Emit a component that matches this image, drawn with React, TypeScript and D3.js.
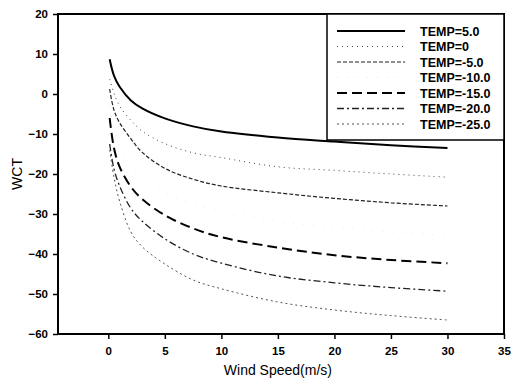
import React, { useRef, useEffect } from 'react';
import * as d3 from 'd3';

// wind speed (m/s) sample points
const windSpeed = [0.12, 0.5, 1, 2, 3, 5, 7.5, 10, 15, 20, 25, 30];

const tempLabels = ['TEMP=5.0', 'TEMP=0', 'TEMP=-5.0', 'TEMP=-10.0', 'TEMP=-15.0', 'TEMP=-20.0', 'TEMP=-25.0'];

const wctT5 = [8.7, 4.6, 1.8, -1.6, -3.6, -6.1, -8.1, -9.4, -10.9, -11.9, -12.8, -13.5];
const wctT0 = [3.7, 0.2, -3, -6.6, -9.3, -12.4, -14.7, -15.9, -18.2, -19.1, -20, -20.8];
const wctTm5 = [1.2, -4, -7.2, -11.2, -14.6, -18.6, -21.3, -23, -24.7, -26.1, -27.2, -28];
const wctTm10 = [-3, -9, -13, -17.5, -21, -24.8, -27.5, -29.4, -31.8, -33.3, -34.5, -35.4];
const wctTm15 = [-6, -13.5, -18.2, -23.2, -26.3, -30.3, -33.6, -35.8, -38.4, -40.3, -41.5, -42.3];
const wctTm20 = [-12.5, -18.7, -23, -28.6, -31.8, -36.2, -40, -42.3, -45.5, -47.2, -48.4, -49.3];
const wctTm25 = [-14, -20.8, -26.8, -34.5, -38.2, -42.5, -46.5, -48.7, -52, -54, -55.4, -56.5];

const xTicks = [0, 5, 10, 15, 20, 25, 30, 35];
const yTicks = [-60, -50, -40, -30, -20, -10, 0, 10, 20];

const lineStyles = [
  { stroke: '#000', width: 2, dash: null },
  { stroke: '#444', width: 1, dash: '1,4' },
  { stroke: '#222', width: 1.2, dash: '4,2' },
  { stroke: '#e8e8e8', width: 1, dash: '1,9' },
  { stroke: '#000', width: 2, dash: '10,5' },
  { stroke: '#222', width: 1.3, dash: '7,3,2,3' },
  { stroke: '#555', width: 1, dash: '2,3' },
];

const App = () => {
  const svgRef = useRef<SVGSVGElement>(null);

  useEffect(() => {
    const width = 511;
    const height = 381;
    const margin = { top: 14, right: 7, bottom: 47, left: 58 };
    const innerWidth = width - margin.left - margin.right;
    const innerHeight = height - margin.top - margin.bottom;
    const font = '"Liberation Sans", Arial, sans-serif';

    const root = d3.select(svgRef.current);
    root.selectAll('*').remove();
    root.attr('width', width).attr('height', height);
    root.append('rect').attr('width', width).attr('height', height).attr('fill', '#fff');

    const svg = root.append('g').attr('transform', `translate(${margin.left}, ${margin.top})`);

    const xScale = d3.scaleLinear().domain([-4.45, 35]).range([0, innerWidth]);
    const yScale = d3.scaleLinear().domain([-60, 20]).range([innerHeight, 0]);

    const series = [wctT5, wctT0, wctTm5, wctTm10, wctTm15, wctTm20, wctTm25];

    const line = d3.line<number>()
      .x((d, i) => xScale(windSpeed[i]))
      .y(d => yScale(d))
      .curve(d3.curveCatmullRom.alpha(0.5));

    svg.selectAll('.line')
      .data(series)
      .enter()
      .append('path')
      .attr('class', 'line')
      .attr('d', d => line(d))
      .attr('fill', 'none')
      .attr('stroke', (d, i) => lineStyles[i].stroke)
      .attr('stroke-width', (d, i) => lineStyles[i].width)
      .attr('stroke-dasharray', (d, i) => lineStyles[i].dash);

    const xAxis = svg.append('g')
      .attr('transform', `translate(0, ${innerHeight})`)
      .call(d3.axisBottom(xScale).tickValues(xTicks).tickSize(5).tickPadding(8).tickFormat(d3.format('d')));

    const yAxis = svg.append('g')
      .call(d3.axisLeft(yScale).tickValues(yTicks).tickSize(5).tickPadding(5).tickFormat(d3.format('d')));

    [xAxis, yAxis].forEach(ax => {
      ax.select('.domain').remove();
      ax.selectAll('line').attr('stroke', '#000').attr('stroke-width', 1.5);
      ax.selectAll('text')
        .attr('font-family', font)
        .attr('font-weight', 'bold')
        .attr('font-size', 11.5)
        .attr('fill', '#000');
    });

    // plot frame
    svg.append('rect')
      .attr('width', innerWidth)
      .attr('height', innerHeight)
      .attr('fill', 'none')
      .attr('stroke', '#000')
      .attr('stroke-width', 2);

    // legend
    const legendX = 327 - margin.left;
    const legendW = innerWidth - legendX;
    const legendH = 126;
    const legend = svg.append('g');
    legend.append('rect')
      .attr('x', legendX)
      .attr('y', 0)
      .attr('width', legendW)
      .attr('height', legendH)
      .attr('fill', '#fff')
      .attr('stroke', '#000')
      .attr('stroke-width', 1.5);

    const rowY = (i: number) => 17 + i * 15.5;
    tempLabels.forEach((label, i) => {
      const st = lineStyles[i];
      legend.append('line')
        .attr('x1', legendX + 10)
        .attr('x2', legendX + 78)
        .attr('y1', rowY(i))
        .attr('y2', rowY(i))
        .attr('stroke', st.stroke)
        .attr('stroke-width', st.width)
        .attr('stroke-dasharray', st.dash);
      legend.append('text')
        .attr('x', legendX + 93)
        .attr('y', rowY(i))
        .attr('dy', '0.36em')
        .attr('font-family', font)
        .attr('font-weight', 'bold')
        .attr('font-size', 12.5)
        .text(label);
    });

    // axis titles
    root.append('text')
      .attr('x', margin.left + xScale(15))
      .attr('y', 375)
      .attr('text-anchor', 'middle')
      .attr('font-family', font)
      .attr('font-size', 14)
      .text('Wind Speed(m/s)');

    root.append('text')
      .attr('transform', `translate(22, ${margin.top + innerHeight / 2}) rotate(-90)`)
      .attr('text-anchor', 'middle')
      .attr('font-family', font)
      .attr('font-size', 14)
      .text('WCT');
  }, []);

  return (
    <svg ref={svgRef} style={{ position: 'absolute', left: 0, top: 0 }}></svg>
  );
};

export default App;
